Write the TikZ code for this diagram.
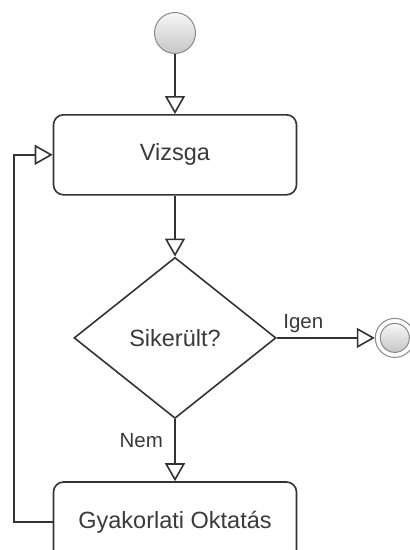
\documentclass[tikz,border=0pt]{standalone}
\usepackage{fontspec}
\setmainfont{Liberation Sans}
\usepackage{xcolor}
\usepackage{tikz}
\usetikzlibrary{arrows.meta,positioning,shapes.geometric}

\definecolor{linegray}{HTML}{333333}
\definecolor{textgray}{HTML}{3A3A3A}
\definecolor{ringgray}{HTML}{8A8A8A}

\begin{document}
\begin{tikzpicture}[
  x=1pt, y=1pt,
  actbox/.style={
    draw=linegray,
    line width=1.6pt,
    rounded corners=10pt,
    minimum width=243pt,
    minimum height=80pt,
    text=textgray,
    font=\fontsize{23.5}{28}\selectfont
  },
  decbox/.style={
    draw=linegray,
    line width=1.6pt,
    diamond,
    aspect=1.25,
    minimum width=202pt,
    minimum height=161pt,
    inner sep=0pt,
    text=textgray,
    font=\fontsize{23.5}{28}\selectfont
  },
  initdot/.style={
    circle,
    draw=ringgray,
    line width=1pt,
    minimum size=41pt,
    inner sep=0pt,
    top color=gray!6,
    bottom color=gray!45
  },
  finalring/.style={
    circle,
    draw=ringgray,
    line width=1pt,
    fill=white,
    minimum size=39pt,
    inner sep=0pt
  },
  finaldot/.style={
    circle,
    draw=ringgray,
    line width=1pt,
    minimum size=29pt,
    inner sep=0pt,
    top color=gray!6,
    bottom color=gray!45
  },
  flow/.style={-{Triangle[open, length=18pt, width=20pt]}, draw=linegray, line width=1.6pt},
  edgelbl/.style={text=textgray, font=\fontsize{20.5}{24}\selectfont}
]
\useasboundingbox (0,0) rectangle (410,-550);

\node[initdot] (start) at (175,-33) {};
\node[actbox, below=60pt of start] (exam) {Vizsga};
\node[decbox, below=61pt of exam] (passed) {Sikerült?};
\node[actbox, below=62pt of passed] (training) {Gyakorlati Oktatás};
\node[finalring, right=98pt of passed] (finish) {};
\node[finaldot] (finishin) at (finish.center) {};

\draw[flow] (start) -- (exam);
\draw[flow] (exam) -- (passed);
\draw[flow] (passed) -- node[edgelbl, pos=0.27, above=1pt] {Igen} (finish);
\draw[flow] (passed) -- node[edgelbl, pos=0.34, left=8pt] {Nem} (training);
\draw[flow] (training.west) -- ++(-39,0) |- (exam.west);
\end{tikzpicture}
\end{document}
